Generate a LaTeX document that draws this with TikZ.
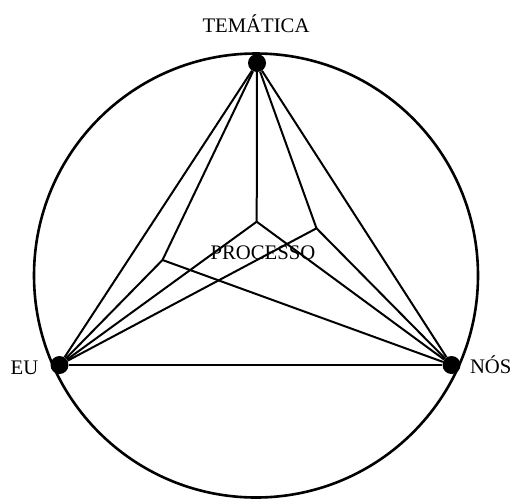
\documentclass[tikz,border=0pt]{standalone}
\usepackage{fontspec}
\setmainfont{Liberation Serif}
\usetikzlibrary{positioning}
\tikzset{
  vertex/.style={
    circle, fill=black, draw=none, minimum size=18pt, inner sep=0pt
  },
  lbl/.style={
    font=\fontsize{20.7}{24}\selectfont, inner sep=0pt, anchor=base
  },
  link/.style={line width=2pt, draw=black, line join=round},
  rim/.style={line width=2.6pt, draw=black},
}
\begin{document}
\begin{tikzpicture}[x=1pt, y=-1pt]
    \useasboundingbox (0,0) rectangle (513,499);

    %% Outer circle
    \draw[rim] (256,275.5) circle (222);

    %% Corners
    \node[vertex] (tem) at (257,63) {};
    \node[vertex] (eu) at (59.5,365) {};
    \node[vertex] (nos) at (451.5,365) {};

    %% Inner points
    \coordinate (pc) at (256.7,221.7);
    \coordinate (pl) at (162.5,260);
    \coordinate (pr) at (316.5,228.3);

    %% Lines
    \draw[link] (eu) -- (tem);
    \draw[link] (tem) -- (nos);
    \draw[link, line width=2.5pt] (eu) -- (nos);
    \foreach \p in {pc, pl, pr} {
      \draw[link] (tem) -- (\p);
      \draw[link] (eu) -- (\p);
      \draw[link] (nos) -- (\p);
    }

    %% Labels
    \node[lbl] (temlbl) at (256,32.3) {TEMÁTICA};
    \node[lbl] (proclbl) at (263,259) {PROCESSO};
    \node[lbl] (eulbl) at (24.5,374) {EU};
    \node[lbl] (noslbl) at (490.7,373.3) {NÓS};

  \end{tikzpicture}
\end{document}
